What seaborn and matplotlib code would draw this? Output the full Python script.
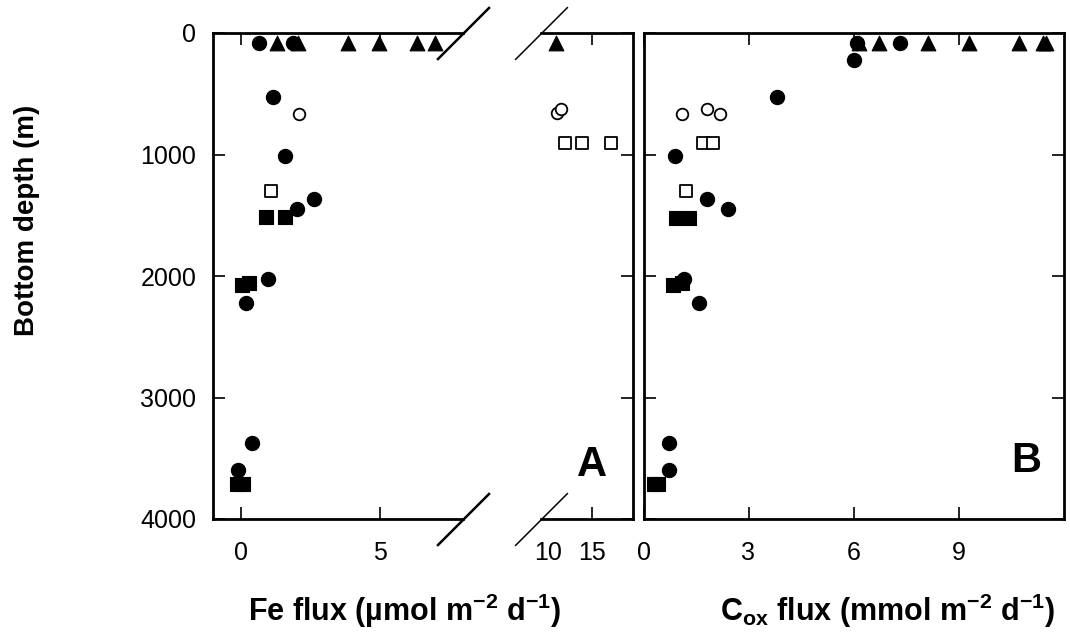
import matplotlib
matplotlib.use("Agg")
import matplotlib.pyplot as plt
import seaborn as sns

# ---- Panel A: Fe flux (µmol m-2 d-1) versus bottom depth (m) ----
fe_circle_flux = [0.67, 1.89, 1.17, 1.58, 2.65, 2.01, 0.97, 0.17, 0.39, -0.09]
fe_circle_depth = [85, 85, 529, 1010, 1369, 1451, 2027, 2225, 3372, 3597]
fe_square_flux = [0.91, 1.60, 0.05, 0.30, -0.12, 0.08]
fe_square_depth = [1517, 1517, 2075, 2060, 3715, 3715]
fe_tri_flux = [1.31, 2.07, 3.86, 4.97, 6.34, 7.00, 10.9]
fe_tri_depth = [85, 85, 85, 85, 85, 85, 85]
fe_open_circle_flux = [2.09, 10.99, 11.43]
fe_open_circle_depth = [667, 661, 628]
fe_open_square_flux = [1.08, 11.9, 13.86, 17.1]
fe_open_square_depth = [1298, 903, 903, 903]

# ---- Panel B: Cox flux (mmol m-2 d-1) versus bottom depth (m) ----
cox_circle_flux = [6.09, 7.34, 6.02, 3.82, 0.90, 1.80, 2.41, 1.15, 1.59, 0.72, 0.72]
cox_circle_depth = [85, 85, 222, 529, 1010, 1369, 1451, 2027, 2225, 3372, 3597]
cox_square_flux = [0.92, 1.30, 0.85, 1.10, 0.30, 0.42]
cox_square_depth = [1520, 1520, 2074, 2060, 3715, 3715]
cox_tri_flux = [6.15, 6.74, 8.12, 9.30, 10.72, 11.40, 11.50]
cox_tri_depth = [85, 85, 85, 85, 85, 85, 85]
cox_open_circle_flux = [1.10, 1.81, 2.19]
cox_open_circle_depth = [667, 628, 667]
cox_open_square_flux = [1.21, 1.70, 1.98]
cox_open_square_depth = [1298, 908, 908]

depth_ticks = [0, 1000, 2000, 3000, 4000]
fe_ticks_low = [0, 5]
fe_ticks_high = [10, 15]
cox_ticks = [0, 3, 6, 9]

sns.set_style("ticks")
plt.rcParams["font.family"] = ["Liberation Sans", "DejaVu Sans"]
plt.rcParams["mathtext.fontset"] = "custom"
plt.rcParams["mathtext.rm"] = "Liberation Sans"
plt.rcParams["mathtext.bf"] = "Liberation Sans:bold"
for key in ("text.color", "axes.labelcolor", "xtick.color", "ytick.color",
            "axes.edgecolor"):
    plt.rcParams[key] = "black"

W, H = 1070, 637
fig = plt.figure(figsize=(W / 100, H / 100), dpi=100)
fig.patch.set_facecolor("white")

top_px, bot_px = 33, 519


def add_axes_px(x0, x1):
    return fig.add_axes([x0 / W, 1 - bot_px / H, (x1 - x0) / W, (bot_px - top_px) / H])


axA1 = add_axes_px(213, 463)
axA2 = add_axes_px(541, 633)
axB = add_axes_px(643.5, 1063.5)


def draw_points(ax, groups):
    for xs, ys, marker, s, face, lw in groups:
        sns.scatterplot(x=xs, y=ys, ax=ax, marker=marker, s=s, color=face,
                        edgecolor="black", linewidth=lw, legend=False,
                        zorder=3)


fe_groups = [
    (fe_tri_flux, fe_tri_depth, "^", 112, "black", 0.8),
    (fe_circle_flux, fe_circle_depth, "o", 105, "black", 0.8),
    (fe_square_flux, fe_square_depth, "s", 88, "black", 0.8),
    (fe_open_circle_flux, fe_open_circle_depth, "o", 70, "white", 1.3),
    (fe_open_square_flux, fe_open_square_depth, "s", 66, "white", 1.3),
]
cox_groups = [
    (cox_tri_flux, cox_tri_depth, "^", 112, "black", 0.8),
    (cox_circle_flux, cox_circle_depth, "o", 105, "black", 0.8),
    (cox_square_flux, cox_square_depth, "s", 88, "black", 0.8),
    (cox_open_circle_flux, cox_open_circle_depth, "o", 70, "white", 1.3),
    (cox_open_square_flux, cox_open_square_depth, "s", 66, "white", 1.3),
]

for ax in (axA1, axA2):
    draw_points(ax, fe_groups)
draw_points(axB, cox_groups)

tick_font = 18
for ax in (axA1, axA2, axB):
    ax.set_ylim(4000, 0)
    ax.set_yticks(depth_ticks)
    ax.set_xlabel("")
    ax.set_ylabel("")
    ax.set_facecolor("white")
    for sp in ax.spines.values():
        sp.set_linewidth(2.0)
        sp.set_color("black")
    ax.tick_params(direction="in", length=8.5, width=1.2, colors="black",
                   labelcolor="black", labelsize=tick_font, top=True, right=True)
    ax.tick_params(axis="x", pad=16)
    ax.tick_params(axis="y", pad=12)

# left part of the broken Fe axis
axA1.set_xlim(-1, 8)
axA1.set_xticks(fe_ticks_low)
axA1.spines["right"].set_visible(False)
axA1.tick_params(axis="y", right=False)
axA1.set_yticklabels([str(t) for t in depth_ticks])

# right part of the broken Fe axis
axA2.set_xlim(9.2, 19.6)
axA2.set_xticks(fe_ticks_high)
axA2.spines["left"].set_visible(False)
axA2.tick_params(axis="y", left=False, labelleft=False)
first = axA2.xaxis.get_major_ticks()[0]
first.tick1line.set_visible(False)
first.tick2line.set_visible(False)

# Cox panel
axB.set_xlim(0, 12)
axB.set_xticks(cox_ticks)
axB.tick_params(axis="y", labelleft=False)

# diagonal break marks
brk = [(-1, -1), (1, 1)]
axA1.plot([1, 1], [0, 1], transform=axA1.transAxes, marker=brk, markersize=38,
          linestyle="none", color="black", mec="black", mew=1.8, clip_on=False)
axA2.plot([0, 0], [0, 1], transform=axA2.transAxes, marker=brk, markersize=38,
          linestyle="none", color="black", mec="black", mew=1.1, clip_on=False)

# panel letters
axA2.text(0.551, 0.111, "A", transform=axA2.transAxes, ha="center", va="center",
          fontsize=30, fontweight="bold", color="black")
axB.text(0.912, 0.12, "B", transform=axB.transAxes, ha="center", va="center",
         fontsize=30, fontweight="bold", color="black")

# axis titles
fig.text(27 / W, 1 - 220 / H, "Bottom depth (m)", rotation=90, ha="center",
         va="center", fontsize=20, fontweight="bold", color="black")
fig.text(405 / W, 1 - 621 / H,
         r"Fe flux (µmol m$^{\mathbf{-2}}$ d$^{\mathbf{-1}}$)",
         ha="center", va="baseline", fontsize=22, fontweight="bold", color="black")
fig.text(888 / W, 1 - 621 / H,
         r"C$_{\mathbf{ox}}$ flux (mmol m$^{\mathbf{-2}}$ d$^{\mathbf{-1}}$)",
         ha="center", va="baseline", fontsize=22, fontweight="bold", color="black")

fig.savefig("out.png", dpi=100, facecolor="white")
